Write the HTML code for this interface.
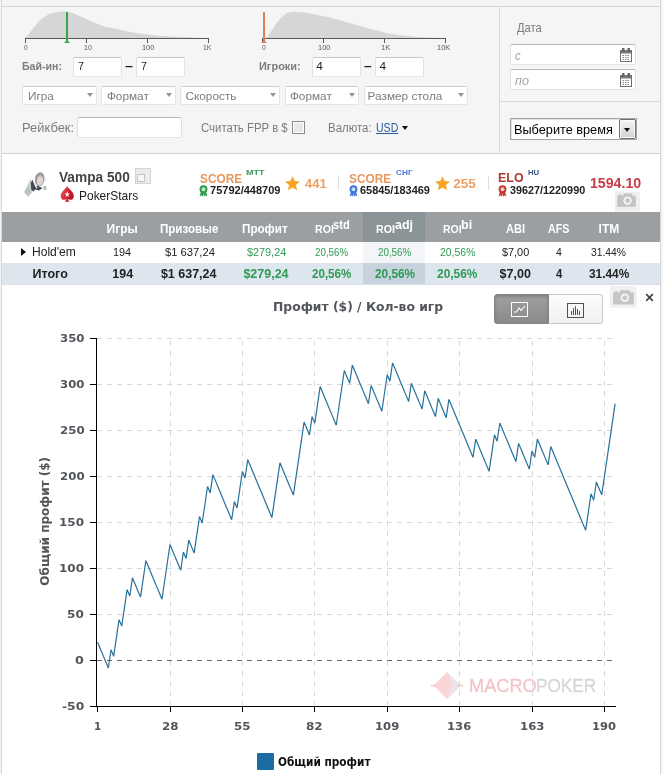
<!DOCTYPE html>
<html lang="ru"><head><meta charset="utf-8"><title>MacroPoker</title>
<style>
html,body{margin:0;padding:0}
body{width:663px;height:774px;overflow:hidden;background:#f4f4f4;font-family:"Liberation Sans",sans-serif;position:relative}
.abs{position:absolute}
.t{position:absolute;line-height:0;white-space:pre;height:0;transform-origin:0 50%}
.box{position:absolute;box-sizing:border-box}
.inp{position:absolute;box-sizing:border-box;background:#fff;border:1px solid #e0e0e0}
.sel{position:absolute;box-sizing:border-box;background:#fff;border:1px solid #e4e4e4;border-top-color:#cecece;border-radius:2px;height:19.5px;top:85.8px}
.sel:after{content:"";position:absolute;right:3px;top:6.5px;border-left:3.8px solid transparent;border-right:3.8px solid transparent;border-top:4px solid #949494}
</style></head>
<body>
<div class="box" style="left:1px;top:0;width:660px;height:774px;border-left:1px solid #d6d6d6;border-right:1px solid #d6d6d6"></div>
<div class="box" style="left:2px;top:6px;width:658px;height:148px;background:#f5f5f5;border-top:1px solid #d6d6d6;border-bottom:1px solid #d2d2d2"></div>
<div class="box" style="left:499px;top:7px;width:1px;height:146px;background:#d9d9d9"></div>
<div class="box" style="left:500px;top:101px;width:160px;height:1px;background:#d9d9d9"></div>
<div class="box" style="left:2px;top:154px;width:658px;height:620px;background:#fff"></div>
<svg class="abs" style="left:0;top:0" width="500" height="56" viewBox="0 0 500 56">
<path d="M25.3 38.0C25.9 37.3 27.4 35.7 29.0 33.7C30.6 31.7 33.3 28.2 35.1 26.1C36.9 24.0 38.1 22.3 39.6 20.8C41.1 19.3 42.3 18.3 44.1 17.1C45.9 15.9 48.2 14.5 50.2 13.7C52.2 12.9 54.2 12.5 56.2 12.2C58.2 11.8 60.2 11.6 62.2 11.6C64.2 11.6 66.3 11.6 68.3 11.9C70.3 12.2 72.3 13.0 74.3 13.7C76.3 14.4 78.3 15.4 80.3 16.3C82.3 17.2 84.4 18.4 86.4 19.3C88.4 20.2 90.4 21.1 92.4 21.9C94.4 22.7 96.4 23.6 98.4 24.3C100.4 25.1 102.5 25.8 104.5 26.4C106.5 27.0 108.0 27.3 110.5 27.8C113.0 28.3 116.4 29.0 119.3 29.6C122.2 30.2 125.1 30.8 128.1 31.4C131.1 31.9 133.8 32.4 137.1 32.9C140.4 33.4 143.4 33.9 147.7 34.4C152.0 34.9 157.8 35.5 162.8 35.9C167.8 36.3 172.9 36.5 177.9 36.8C182.9 37.0 187.9 37.2 193.0 37.4C198.1 37.6 205.8 37.8 208.3 37.9V38.5H25.3Z" fill="#d5d6d8"/>
<path d="M266.0 38.0C266.7 37.1 268.7 34.9 270.1 32.9C271.5 30.9 273.1 28.2 274.6 26.1C276.1 24.0 277.6 21.9 279.1 20.1C280.6 18.4 282.3 16.8 283.7 15.6C285.1 14.4 286.1 13.4 287.4 12.8C288.6 12.2 289.6 12.1 291.2 11.9C292.8 11.8 294.7 11.8 297.2 11.9C299.7 12.1 303.3 12.4 306.3 12.8C309.3 13.2 312.3 13.8 315.3 14.4C318.3 15.0 321.4 15.6 324.4 16.3C327.4 17.0 330.4 17.8 333.4 18.6C336.4 19.4 339.6 20.3 342.5 21.1C345.4 21.9 348.2 22.6 351.0 23.4C353.8 24.2 356.1 24.9 359.0 25.7C361.9 26.5 365.1 27.6 368.1 28.4C371.1 29.2 374.1 29.9 377.1 30.6C380.1 31.4 383.2 32.3 386.2 32.9C389.2 33.5 391.2 33.8 395.2 34.4C399.2 35.0 405.3 35.7 410.3 36.2C415.3 36.7 420.4 37.0 425.4 37.3C430.4 37.6 437.2 37.8 440.5 37.9C443.8 38.0 444.5 38.0 445.3 38.0V38.5H266Z" fill="#d5d6d8"/>
<path d="M25.5 43V38.5H208.500V43M86.500 38.5V43M147.500 38.5V43" stroke="#5a5a5a" fill="none" shape-rendering="crispEdges"/>
<path d="M262.500 43V38.5H445.500V43M323.500 38.5V43M384.500 38.5V43" stroke="#5a5a5a" fill="none" shape-rendering="crispEdges"/>
<path d="M67 12V41" stroke="#3aa845" stroke-width="2"/><path d="M64 43L67 39.800L70 43Z" fill="#3aa845"/>
<path d="M264 12V41" stroke="#dc8250" stroke-width="2"/><path d="M261.200 43L264 39.800L266.800 43Z" fill="#dc8250"/>
</svg>
<div class="inp" style="left:73px;top:57px;width:48.5px;height:19.5px;border-color:#c8c8c8 #e2e2e2 #e6e6e6 #e2e2e2;border-radius:2px"></div>
<div class="inp" style="left:136px;top:57px;width:48.5px;height:19.5px;border-color:#c8c8c8 #e2e2e2 #e6e6e6 #e2e2e2;border-radius:2px"></div>
<div class="inp" style="left:312px;top:57px;width:48.5px;height:19.5px;border-color:#c8c8c8 #e2e2e2 #e6e6e6 #e2e2e2;border-radius:2px"></div>
<div class="inp" style="left:375px;top:57px;width:48.5px;height:19.5px;border-color:#c8c8c8 #e2e2e2 #e6e6e6 #e2e2e2;border-radius:2px"></div>
<div class="inp" style="left:77px;top:117px;width:104.5px;height:21px;border-color:#b8b8b8 #e0e0e0 #e6e6e6 #e0e0e0;border-radius:3px"></div>
<div class="sel" style="left:22px;width:74.5px"></div>
<div class="sel" style="left:101px;width:75px"></div>
<div class="sel" style="left:180px;width:99.6px"></div>
<div class="sel" style="left:285px;width:73.5px"></div>
<div class="sel" style="left:363.5px;width:104.5px"></div>
<div class="box" style="left:291.6px;top:121px;width:13px;height:13px;border:1px solid #8a8a8a;background:#e8e8e8;box-shadow:inset 0 0 0 1px #fff"></div>
<div class="abs" style="left:401.8px;top:126px;border-left:3.6px solid transparent;border-right:3.6px solid transparent;border-top:4.4px solid #111"></div>
<div class="inp" style="left:510px;top:44px;width:126px;height:21.3px;border-color:#b6b6b6 #dedede #e4e4e4 #dedede;border-radius:2px"><svg class="abs" style="right:3px;top:3px" width="12" height="14" viewBox="0 0 12 14"><rect x="0.5" y="2.5" width="11" height="11" fill="#fff" stroke="#6e6e6e"/><rect x="1" y="2" width="10" height="3.5" fill="#7a7a7a"/><rect x="2" y="0" width="2.500" height="4" fill="#666"/><rect x="7.500" y="0" width="2.500" height="4" fill="#666"/><path d="M2.500 7.500H10M2.500 9.500H10M2.500 11.500H10" stroke="#8a8a8a" stroke-dasharray="1.500 1"/></svg></div>
<div class="inp" style="left:510px;top:69px;width:126px;height:21.4px;border-color:#b6b6b6 #dedede #e4e4e4 #dedede;border-radius:2px"><svg class="abs" style="right:3px;top:3px" width="12" height="14" viewBox="0 0 12 14"><rect x="0.5" y="2.5" width="11" height="11" fill="#fff" stroke="#6e6e6e"/><rect x="1" y="2" width="10" height="3.5" fill="#7a7a7a"/><rect x="2" y="0" width="2.500" height="4" fill="#666"/><rect x="7.500" y="0" width="2.500" height="4" fill="#666"/><path d="M2.500 7.500H10M2.500 9.500H10M2.500 11.500H10" stroke="#8a8a8a" stroke-dasharray="1.500 1"/></svg></div>
<div class="box" style="left:510px;top:118px;width:127px;height:22px;background:#fff;border:1px solid #a4a4a4;box-shadow:inset 1px 1px 0 #e4e4e4"><div class="box" style="right:0;top:0;width:17px;height:20px;border:1px solid #707070;background:linear-gradient(#f6f6f6,#d2d2d2);border-radius:2px;box-shadow:inset 0 0 0 1px #fbfbfb"><div class="abs" style="left:4px;top:8px;border-left:3.5px solid transparent;border-right:3.5px solid transparent;border-top:4px solid #111"></div></div></div>
<svg class="abs" style="left:18px;top:164px" width="36" height="40" viewBox="0 0 36 40">
<path d="M12.600 15.200L8.800 22.500L6.200 28.500L10.300 33L15.800 26L14 19Z" fill="#c3cdc9"/>
<path d="M7 26.500L10.500 30.500M8.500 24.500L12 28.500" stroke="#93a09b" stroke-width="0.800" fill="none"/>
<path d="M14.300 15.500L17.600 23.500L19 21.500L24.500 24L21 26.500L17 25.500L15.500 27.500L13.200 25.500L12.800 19Z" fill="#434a54"/>
<path d="M17.600 20.500L19.600 24.200L18.200 24.600Z" fill="#f4f4f6"/>
<ellipse cx="21.700" cy="15.200" rx="4.800" ry="7.100" fill="#979c9f" transform="rotate(8 21.700 15.200)"/>
<ellipse cx="22" cy="16.500" rx="3.100" ry="5" fill="#e6d5d0" transform="rotate(8 22 16.500)"/>
<path d="M19.300 13.500C20.500 12 22.500 12 24 13.200" stroke="#b9b4b2" stroke-width="1" fill="none"/>
<path d="M25 22.500L27.800 21.500L28.800 25.500L26 26.500Z" fill="#b9bfc0"/>
</svg>
<div class="box" style="left:135px;top:168px;width:16px;height:16px;background:#ececec;border:1px solid #d4d4d4"><div class="box" style="left:1px;top:5px;width:8px;height:8px;border:1px solid #c4c4c4;background:#f6f6f6"></div></div>
<svg class="abs" style="left:59.8px;top:185.7px" width="14.4" height="16.2" viewBox="0 0 16 15" preserveAspectRatio="none"><defs><linearGradient id="sp" x1="0" y1="0.2" x2="1" y2="0.7"><stop offset="0" stop-color="#ee6a66"/><stop offset="0.45" stop-color="#d62432"/><stop offset="1" stop-color="#b4101e"/></linearGradient></defs><path d="M8 0.300C10 3 15.300 5.500 15.300 9.200C15.300 11.600 13.400 12.800 11.600 12.800C10.400 12.800 9.400 12.300 8.800 11.500C9 13 9.800 14 10.800 14.600H5.200C6.200 14 7 13 7.200 11.500C6.600 12.300 5.600 12.800 4.400 12.800C2.600 12.800 0.700 11.600 0.700 9.200C0.700 5.500 6 3 8 0.300Z" fill="url(#sp)"/><path d="M8 4.700L8.750 6.900L11 6.900L9.200 8.250L9.900 10.400L8 9.100L6.100 10.400L6.800 8.250L5 6.900L7.250 6.900Z" fill="#fff"/></svg>
<svg class="abs" style="left:199.2px;top:185px" width="9" height="12" viewBox="0 0 9 12"><path d="M2 6.500L0.600 11.500L2.800 10.300L4 11.800L4.500 8L5 11.800L6.200 10.300L8.400 11.500L7 6.500Z" fill="#2f9a4c"/><circle cx="4.500" cy="4.200" r="3.900" fill="#2f9a4c"/><circle cx="4.500" cy="4.200" r="2" fill="#fff" fill-opacity="0.75"/></svg>
<svg class="abs" style="left:348.7px;top:185px" width="9" height="12" viewBox="0 0 9 12"><path d="M2 6.500L0.600 11.500L2.800 10.300L4 11.800L4.500 8L5 11.800L6.200 10.300L8.400 11.500L7 6.500Z" fill="#3f74d8"/><circle cx="4.500" cy="4.200" r="3.900" fill="#3f74d8"/><circle cx="4.500" cy="4.200" r="2" fill="#fff" fill-opacity="0.75"/></svg>
<svg class="abs" style="left:498px;top:185px" width="9" height="12" viewBox="0 0 9 12"><path d="M2 6.500L0.600 11.500L2.800 10.300L4 11.800L4.500 8L5 11.800L6.200 10.300L8.400 11.500L7 6.500Z" fill="#c8372d"/><circle cx="4.500" cy="4.200" r="3.900" fill="#c8372d"/><circle cx="4.500" cy="4.200" r="2" fill="#fff" fill-opacity="0.75"/></svg>
<svg class="abs" style="left:285.2px;top:176px" width="15" height="15" viewBox="0 0 15 15"><path d="M7.500 0.300L9.700 5.100L14.800 5.600L11 9.100L12.100 14.200L7.500 11.600L2.900 14.200L4 9.100L0.200 5.600L5.300 5.100Z" fill="#f6a623"/></svg>
<svg class="abs" style="left:434.5px;top:176px" width="15" height="15" viewBox="0 0 15 15"><path d="M7.500 0.300L9.700 5.100L14.800 5.600L11 9.100L12.100 14.200L7.500 11.600L2.900 14.200L4 9.100L0.200 5.600L5.300 5.100Z" fill="#f6a623"/></svg>
<div class="box" style="left:338px;top:176px;width:1px;height:14px;background:#ddd"></div>
<div class="box" style="left:488px;top:176px;width:1px;height:14px;background:#ddd"></div>
<svg class="abs" style="left:615px;top:192px" width="25" height="19.5" viewBox="0 0 25 19.5"><rect width="25" height="19.5" fill="#eeeeee"/><path d="M2.2 4.0H7.8L9.0 1.5999999999999999H16.8L18.0 4.0H20.8V14.8H2.2Z" fill="#c4c4c4"/><rect x="3.7" y="2.6" width="3" height="1.6" fill="#c4c4c4"/><circle cx="12.6" cy="8.6" r="4.2" fill="#f6f6f6"/><circle cx="12.6" cy="8.6" r="2.4" fill="#c4c4c4"/></svg>
<div class="box" style="left:2px;top:212px;width:658px;height:30px;background:#9b9fa2"></div>
<div class="box" style="left:363px;top:212px;width:62px;height:30px;background:#8b9497"></div>
<div class="box" style="left:363px;top:242px;width:62px;height:21px;background:#f3f5f8"></div>
<div class="box" style="left:2px;top:263px;width:658px;height:21px;background:#dde6ef"></div>
<div class="box" style="left:363px;top:263px;width:62px;height:21px;background:#c6d2de"></div>
<div class="box" style="left:2px;top:284px;width:658px;height:1px;background:#d8dfe6"></div>
<div class="abs" style="left:21px;top:247.5px;border-top:4px solid transparent;border-bottom:4px solid transparent;border-left:5px solid #111"></div>
<div class="box" style="left:494px;top:294px;width:55px;height:30px;background:linear-gradient(#a0a0a0,#8a8a8a);border:1px solid #858585;border-radius:3px 0 0 3px;box-shadow:inset 0 2px 3px rgba(0,0,0,.18)"></div>
<div class="box" style="left:549px;top:294px;width:54px;height:30px;background:linear-gradient(#fdfdfd,#f0f0f0);border:1px solid #c8c8c8;border-left:none;border-radius:0 3px 3px 0"></div>
<svg class="abs" style="left:511px;top:302px" width="17" height="15" viewBox="0 0 17 15"><rect x="0.5" y="0.5" width="16" height="14" fill="none" stroke="#fff"/><path d="M3 10H5.500L8 6L10 8.500L14 4" fill="none" stroke="#fff" stroke-width="1.100"/></svg>
<svg class="abs" style="left:567px;top:303px" width="17" height="15" viewBox="0 0 17 15"><rect x="0.5" y="0.5" width="16" height="14" fill="none" stroke="#505050"/><path d="M4.500 12V8M6.500 12V5.200M8.500 12V3.200M10.500 12V6M12.500 12V8" fill="none" stroke="#505050"/></svg>
<svg class="abs" style="left:610px;top:285.6px" width="26.7" height="22.4" viewBox="0 0 26.7 22.4"><rect width="26.7" height="22.4" fill="#f1f1f1"/><path d="M3.1 6.6H9.3L10.5 4.2H19.6L20.8 6.6H23.9V18.4H3.1Z" fill="#c6c6c6"/><rect x="4.6" y="5.2" width="3" height="1.6" fill="#c6c6c6"/><circle cx="14.9" cy="11.8" r="4.2" fill="#f6f6f6"/><circle cx="14.9" cy="11.8" r="2.4" fill="#c6c6c6"/></svg>
<svg class="abs" style="left:644.5px;top:292.5px" width="9" height="9" viewBox="0 0 9 9"><path d="M1.200 1.200L7.800 7.800M7.800 1.200L1.200 7.800" stroke="#444" stroke-width="1.700"/></svg>
<svg class="abs" style="left:431px;top:671px" width="32" height="30" viewBox="0 0 32 30"><path d="M16 1L29.500 14.500L16 28L2.500 14.500Z" fill="#f9d5d5"/><path d="M16 1L29.500 14.500L16 28L21 14.500Z" fill="#e9e4e8"/><path d="M0 14.500H6M26 14.500H32" stroke="#f4c8c8" stroke-width="1.500"/></svg>
<svg class="abs" style="left:0;top:0" width="663" height="774" viewBox="0 0 663 774">
<path d="M97 338.5H616 M97 384.5H616 M97 430.5H616 M97 476.5H616 M97 522.5H616 M97 568.5H616 M97 614.5H616" stroke="#d7d7d7" stroke-width="1" stroke-dasharray="5 5" fill="none" shape-rendering="crispEdges"/>
<path d="M97 660.5H616" stroke="#666" stroke-width="1" stroke-dasharray="5 5" fill="none" shape-rendering="crispEdges"/>
<path d="M170.5 706V338 M242.5 706V338 M314.5 706V338 M387.5 706V338 M459.5 706V338 M532.5 706V338 M604.5 706V338" stroke="#d7d7d7" stroke-width="1" stroke-dasharray="5 5" fill="none" shape-rendering="crispEdges"/>
<path d="M96.5 338V707 M96 706.5H616 M90 338.5H96 M90 384.5H96 M90 430.5H96 M90 476.5H96 M90 522.5H96 M90 568.5H96 M90 614.5H96 M90 660.5H96 M90 706.5H96 M97.5 707V712 M170.5 707V712 M242.5 707V712 M314.5 707V712 M387.5 707V712 M459.5 707V712 M532.5 707V712 M604.5 707V712" stroke="#000" stroke-width="1" fill="none" shape-rendering="crispEdges"/>
<polyline points="97.60,642.25 100.28,648.69 102.96,655.13 105.64,661.57 108.33,668.01 111.01,649.75 113.69,656.19 116.37,637.94 119.05,619.69 121.73,626.13 124.41,607.88 127.10,589.62 129.78,596.06 132.46,577.81 135.14,584.25 137.82,590.69 140.50,597.13 143.19,578.88 145.87,560.62 148.55,567.06 151.23,573.50 153.91,579.94 156.59,586.38 159.27,592.82 161.96,599.26 164.64,581.01 167.32,562.76 170.00,544.51 172.68,550.95 175.36,557.39 178.05,563.83 180.73,570.27 183.41,552.01 186.09,558.45 188.77,540.20 191.45,546.64 194.13,553.08 196.82,534.83 199.50,516.58 202.18,523.02 204.86,504.76 207.54,486.51 210.22,492.95 212.90,474.70 215.59,481.14 218.27,487.58 220.95,494.02 223.63,500.46 226.31,506.90 228.99,513.34 231.68,519.78 234.36,501.52 237.04,507.96 239.72,489.71 242.40,471.46 245.08,477.90 247.76,459.65 250.45,466.09 253.13,472.53 255.81,478.97 258.49,485.41 261.17,491.85 263.85,498.29 266.53,504.73 269.22,511.17 271.90,517.61 274.58,499.35 277.26,481.10 279.94,462.85 282.62,469.29 285.31,475.73 287.99,482.17 290.67,488.61 293.35,495.05 296.03,476.79 298.71,458.54 301.39,440.29 304.08,422.04 306.76,428.48 309.44,434.92 312.12,416.66 314.80,423.10 317.48,404.85 320.16,386.60 322.85,393.04 325.53,399.48 328.21,405.92 330.89,412.36 333.57,418.80 336.25,425.24 338.94,406.98 341.62,388.73 344.30,370.48 346.98,376.92 349.66,383.36 352.34,365.11 355.02,371.55 357.71,377.99 360.39,384.43 363.07,390.87 365.75,397.31 368.43,403.75 371.11,385.49 373.79,391.93 376.48,398.37 379.16,404.81 381.84,411.25 384.52,393.00 387.20,374.75 389.88,381.19 392.57,362.94 395.25,369.38 397.93,375.82 400.61,382.26 403.29,388.70 405.97,395.14 408.65,401.58 411.34,383.32 414.02,389.76 416.70,396.20 419.38,402.64 422.06,409.08 424.74,390.83 427.42,397.27 430.11,403.71 432.79,410.15 435.47,416.59 438.15,398.34 440.83,404.78 443.51,411.22 446.20,417.66 448.88,399.40 451.56,405.84 454.24,412.28 456.92,418.72 459.60,425.16 462.28,431.60 464.97,438.04 467.65,444.48 470.33,450.92 473.01,457.36 475.69,439.11 478.37,445.55 481.05,451.99 483.74,458.43 486.42,464.87 489.10,471.31 491.78,453.06 494.46,434.81 497.14,441.25 499.83,422.99 502.51,429.43 505.19,435.87 507.87,442.31 510.55,448.75 513.23,455.19 515.91,461.63 518.60,443.38 521.28,449.82 523.96,456.26 526.64,462.70 529.32,469.14 532.00,450.89 534.68,457.33 537.37,439.07 540.05,445.51 542.73,451.95 545.41,458.39 548.09,464.83 550.77,446.58 553.46,453.02 556.14,459.46 558.82,465.90 561.50,472.34 564.18,478.78 566.86,485.22 569.54,491.66 572.23,498.10 574.91,504.54 577.59,510.98 580.27,517.42 582.95,523.86 585.63,530.30 588.31,512.05 591.00,493.80 593.68,500.24 596.36,481.98 599.04,488.42 601.72,494.86 604.40,476.61 607.09,458.36 609.77,440.10 612.45,421.85 615.13,403.60" fill="none" stroke="#27719a" stroke-width="1.2" stroke-linejoin="bevel"/>
</svg>
<div class="box" style="left:257px;top:753px;width:17px;height:17px;background:#1b6ca3;border-radius:1px"></div>
<span class="t" style="left:23.89px;top:47.99px;font-size:7.8px;color:#5a5a5a;transform:scaleX(0.8247);">0</span>
<span class="t" style="left:83.75px;top:47.99px;font-size:7.8px;color:#5a5a5a;transform:scaleX(0.9004);">10</span>
<span class="t" style="left:141.93px;top:47.99px;font-size:7.8px;color:#5a5a5a;transform:scaleX(0.9469);">100</span>
<span class="t" style="left:203.16px;top:47.99px;font-size:7.8px;color:#5a5a5a;transform:scaleX(0.8784);">1K</span>
<span class="t" style="left:261.59px;top:47.99px;font-size:7.8px;color:#5a5a5a;transform:scaleX(0.8504);">0</span>
<span class="t" style="left:318.02px;top:47.99px;font-size:7.8px;color:#5a5a5a;transform:scaleX(0.9551);">100</span>
<span class="t" style="left:380.82px;top:47.99px;font-size:7.8px;color:#5a5a5a;transform:scaleX(0.9684);">1K</span>
<span class="t" style="left:437.22px;top:47.99px;font-size:7.8px;color:#5a5a5a;transform:scaleX(0.9513);">10K</span>
<span class="t" style="left:22.13px;top:65.98px;font-size:11.8px;color:#7c7c7c;font-weight:bold;transform:scaleX(0.8989);">Бай-ин:</span>
<span class="t" style="left:77.75px;top:65.98px;font-size:11.8px;color:#222;transform:scaleX(0.9092);">7</span>
<span class="t" style="left:125.38px;top:65.94px;font-size:13px;color:#222;font-weight:bold;transform:scaleX(1.1070);">–</span>
<span class="t" style="left:140.75px;top:65.98px;font-size:11.8px;color:#222;transform:scaleX(0.9092);">7</span>
<span class="t" style="left:258.70px;top:65.98px;font-size:11.8px;color:#7c7c7c;font-weight:bold;transform:scaleX(0.9285);">Игроки:</span>
<span class="t" style="left:316.35px;top:65.98px;font-size:11.8px;color:#222;">4</span>
<span class="t" style="left:364.41px;top:65.94px;font-size:13px;color:#222;font-weight:bold;transform:scaleX(1.0455);">–</span>
<span class="t" style="left:379.55px;top:65.98px;font-size:11.8px;color:#222;">4</span>
<span class="t" style="left:27.93px;top:95.98px;font-size:11.8px;color:#7c7c7c;">Игра</span>
<span class="t" style="left:106.88px;top:95.98px;font-size:11.8px;color:#7c7c7c;">Формат</span>
<span class="t" style="left:185.50px;top:95.98px;font-size:11.8px;color:#7c7c7c;">Скорость</span>
<span class="t" style="left:289.88px;top:95.98px;font-size:11.8px;color:#7c7c7c;">Формат</span>
<span class="t" style="left:367.62px;top:95.98px;font-size:11.8px;color:#7c7c7c;">Размер стола</span>
<span class="t" style="left:21.65px;top:128.06px;font-size:12.3px;color:#7c7c7c;transform:scaleX(1.0514);">Рейкбек:</span>
<span class="t" style="left:201.34px;top:128.06px;font-size:12.3px;color:#7c7c7c;transform:scaleX(0.9280);">Считать FPP в $</span>
<span class="t" style="left:328.37px;top:128.06px;font-size:12.3px;color:#7c7c7c;transform:scaleX(0.9298);">Валюта:</span>
<span class="t" style="left:376.25px;top:128.06px;font-size:12.3px;color:#265c9c;transform:scaleX(0.8571);text-decoration:underline;">USD</span>
<span class="t" style="left:517.20px;top:28.01px;font-size:12.8px;color:#7c7c7c;transform:scaleX(0.8709);">Дата</span>
<span class="t" style="left:515.29px;top:56.05px;font-size:13.4px;color:#a4a4a4;font-style:italic;transform:scaleX(0.8316);">с</span>
<span class="t" style="left:515.38px;top:81.05px;font-size:13.4px;color:#a4a4a4;font-style:italic;transform:scaleX(0.9390);">по</span>
<span class="t" style="left:514.46px;top:130.02px;font-size:13.5px;color:#000;transform:scaleX(0.9417);">Выберите время</span>
<span class="t" style="left:59.10px;top:176.98px;font-size:15.4px;color:#444;font-weight:bold;transform:scaleX(0.8891);">Vampa 500</span>
<span class="t" style="left:78.79px;top:196.00px;font-size:13.2px;color:#1c1c1c;transform:scaleX(0.9069);">PokerStars</span>
<span class="t" style="left:199.87px;top:178.95px;font-size:13.7px;color:#e9975c;font-weight:bold;transform:scaleX(0.8671);">SCORE</span>
<span class="t" style="left:246.13px;top:173.04px;font-size:8px;color:#3a9a5a;font-weight:bold;transform:scaleX(1.1339);">MTT</span>
<span class="t" style="left:210.24px;top:189.96px;font-size:11.5px;color:#222;font-weight:bold;transform:scaleX(0.9580);">75792/448709</span>
<span class="t" style="left:304.68px;top:184.02px;font-size:13.5px;color:#f0a060;font-weight:bold;transform:scaleX(0.9579);">441</span>
<span class="t" style="left:349.18px;top:178.95px;font-size:13.7px;color:#e9975c;font-weight:bold;transform:scaleX(0.8650);">SCORE</span>
<span class="t" style="left:395.54px;top:173.04px;font-size:8px;color:#4a78d8;font-weight:bold;transform:scaleX(1.0283);">СНГ</span>
<span class="t" style="left:360.24px;top:189.96px;font-size:11.5px;color:#222;font-weight:bold;transform:scaleX(0.9498);">65845/183469</span>
<span class="t" style="left:453.32px;top:184.02px;font-size:13.5px;color:#f0a060;font-weight:bold;">255</span>
<span class="t" style="left:498.05px;top:178.02px;font-size:12.4px;color:#ad3a30;font-weight:bold;">ELO</span>
<span class="t" style="left:527.92px;top:173.04px;font-size:8px;color:#34547e;font-weight:bold;transform:scaleX(0.9687);">HU</span>
<span class="t" style="left:509.66px;top:189.96px;font-size:11.5px;color:#222;font-weight:bold;transform:scaleX(0.9401);">39627/1220990</span>
<span class="t" style="left:589.92px;top:183.02px;font-size:14.2px;color:#c83c48;font-weight:bold;">1594.10</span>
<span class="t" style="left:106.55px;top:229.04px;font-size:12px;color:#fff;font-weight:bold;">Игры</span>
<span class="t" style="left:159.58px;top:229.04px;font-size:12px;color:#fff;font-weight:bold;transform:scaleX(0.9625);">Призовые</span>
<span class="t" style="left:242.37px;top:229.04px;font-size:12px;color:#fff;font-weight:bold;transform:scaleX(0.9716);">Профит</span>
<span class="t" style="left:314.71px;top:229.05px;font-size:11.6px;color:#fff;font-weight:bold;transform:scaleX(0.9142);">ROI</span>
<span class="t" style="left:333.15px;top:225.04px;font-size:12px;color:#fff;font-weight:bold;transform:scaleX(0.9304);">std</span>
<span class="t" style="left:376.31px;top:229.05px;font-size:11.6px;color:#fff;font-weight:bold;transform:scaleX(0.9142);">ROI</span>
<span class="t" style="left:394.74px;top:225.04px;font-size:12px;color:#fff;font-weight:bold;transform:scaleX(1.0396);">adj</span>
<span class="t" style="left:442.82px;top:229.05px;font-size:11.6px;color:#fff;font-weight:bold;transform:scaleX(0.9090);">ROI</span>
<span class="t" style="left:460.71px;top:225.04px;font-size:12px;color:#fff;font-weight:bold;transform:scaleX(1.0512);">bi</span>
<span class="t" style="left:506.07px;top:229.04px;font-size:12px;color:#fff;font-weight:bold;transform:scaleX(0.9162);">ABI</span>
<span class="t" style="left:547.68px;top:229.04px;font-size:12px;color:#fff;font-weight:bold;transform:scaleX(0.8984);">AFS</span>
<span class="t" style="left:598.55px;top:229.04px;font-size:12px;color:#fff;font-weight:bold;">ITM</span>
<span class="t" style="left:32.36px;top:252.01px;font-size:12.8px;color:#222;transform:scaleX(0.9413);">Hold'em</span>
<span class="t" style="left:113.18px;top:252.05px;font-size:11.6px;color:#222;transform:scaleX(0.9384);">194</span>
<span class="t" style="left:164.58px;top:252.05px;font-size:11.6px;color:#222;transform:scaleX(0.9683);">$1 637,24</span>
<span class="t" style="left:246.98px;top:252.05px;font-size:11.6px;color:#2e9a52;transform:scaleX(0.9351);">$279,24</span>
<span class="t" style="left:315.48px;top:252.05px;font-size:11.6px;color:#2e9a52;transform:scaleX(0.8443);">20,56%</span>
<span class="t" style="left:377.78px;top:252.05px;font-size:11.6px;color:#2e9a52;transform:scaleX(0.8443);">20,56%</span>
<span class="t" style="left:439.55px;top:252.05px;font-size:11.6px;color:#2e9a52;transform:scaleX(0.9013);">20,56%</span>
<span class="t" style="left:501.78px;top:252.05px;font-size:11.6px;color:#222;transform:scaleX(0.9366);">$7,00</span>
<span class="t" style="left:555.97px;top:252.05px;font-size:11.6px;color:#222;transform:scaleX(0.9018);">4</span>
<span class="t" style="left:590.97px;top:252.05px;font-size:11.6px;color:#222;transform:scaleX(0.8880);">31.44%</span>
<span class="t" style="left:32.55px;top:273.99px;font-size:12.5px;color:#222;font-weight:bold;">Итого</span>
<span class="t" style="left:112.25px;top:273.99px;font-size:12.5px;color:#222;font-weight:bold;">194</span>
<span class="t" style="left:160.88px;top:273.99px;font-size:12.5px;color:#222;font-weight:bold;">$1 637,24</span>
<span class="t" style="left:243.38px;top:273.99px;font-size:12.5px;color:#2e9a52;font-weight:bold;">$279,24</span>
<span class="t" style="left:311.95px;top:273.99px;font-size:12.5px;color:#2e9a52;font-weight:bold;transform:scaleX(0.9266);">20,56%</span>
<span class="t" style="left:374.55px;top:273.99px;font-size:12.5px;color:#2e9a52;font-weight:bold;transform:scaleX(0.9458);">20,56%</span>
<span class="t" style="left:437.14px;top:273.99px;font-size:12.5px;color:#2e9a52;font-weight:bold;transform:scaleX(0.9530);">20,56%</span>
<span class="t" style="left:499.57px;top:273.99px;font-size:12.5px;color:#222;font-weight:bold;">$7,00</span>
<span class="t" style="left:555.69px;top:273.99px;font-size:12.5px;color:#222;font-weight:bold;transform:scaleX(0.9016);">4</span>
<span class="t" style="left:588.56px;top:273.99px;font-size:12.5px;color:#222;font-weight:bold;transform:scaleX(0.9501);">31.44%</span>
<span class="t" style="left:272.57px;top:307.04px;font-size:12px;color:#52555a;font-weight:bold;font-family:'DejaVu Sans','Liberation Sans',sans-serif;transform:scaleX(1.0280);">Профит ($) / Кол-во игр</span>
<span class="t" style="left:59.83px;top:339.01px;font-size:11px;color:#52555a;font-weight:bold;font-family:'DejaVu Sans','Liberation Sans',sans-serif;transform:scaleX(1.0649);">350</span>
<span class="t" style="left:59.83px;top:385.01px;font-size:11px;color:#52555a;font-weight:bold;font-family:'DejaVu Sans','Liberation Sans',sans-serif;transform:scaleX(1.0649);">300</span>
<span class="t" style="left:59.70px;top:431.01px;font-size:11px;color:#52555a;font-weight:bold;font-family:'DejaVu Sans','Liberation Sans',sans-serif;transform:scaleX(1.0710);">250</span>
<span class="t" style="left:59.70px;top:477.01px;font-size:11px;color:#52555a;font-weight:bold;font-family:'DejaVu Sans','Liberation Sans',sans-serif;transform:scaleX(1.0710);">200</span>
<span class="t" style="left:59.27px;top:523.01px;font-size:11px;color:#52555a;font-weight:bold;font-family:'DejaVu Sans','Liberation Sans',sans-serif;transform:scaleX(1.0898);">150</span>
<span class="t" style="left:59.27px;top:569.01px;font-size:11px;color:#52555a;font-weight:bold;font-family:'DejaVu Sans','Liberation Sans',sans-serif;transform:scaleX(1.0898);">100</span>
<span class="t" style="left:67.48px;top:615.01px;font-size:11px;color:#52555a;font-weight:bold;font-family:'DejaVu Sans','Liberation Sans',sans-serif;transform:scaleX(1.0970);">50</span>
<span class="t" style="left:75.42px;top:661.01px;font-size:11px;color:#52555a;font-weight:bold;font-family:'DejaVu Sans','Liberation Sans',sans-serif;transform:scaleX(1.1552);">0</span>
<span class="t" style="left:62.04px;top:707.01px;font-size:11px;color:#52555a;font-weight:bold;font-family:'DejaVu Sans','Liberation Sans',sans-serif;transform:scaleX(1.1158);">-50</span>
<span class="t" style="left:93.50px;top:727.01px;font-size:11px;color:#52555a;font-weight:bold;font-family:'DejaVu Sans','Liberation Sans',sans-serif;transform:scaleX(0.9359);">1</span>
<span class="t" style="left:161.99px;top:727.01px;font-size:11px;color:#52555a;font-weight:bold;font-family:'DejaVu Sans','Liberation Sans',sans-serif;transform:scaleX(1.0808);">28</span>
<span class="t" style="left:233.99px;top:727.01px;font-size:11px;color:#52555a;font-weight:bold;font-family:'DejaVu Sans','Liberation Sans',sans-serif;transform:scaleX(1.0808);">55</span>
<span class="t" style="left:306.12px;top:727.01px;font-size:11px;color:#52555a;font-weight:bold;font-family:'DejaVu Sans','Liberation Sans',sans-serif;transform:scaleX(1.0906);">82</span>
<span class="t" style="left:374.91px;top:727.01px;font-size:11px;color:#52555a;font-weight:bold;font-family:'DejaVu Sans','Liberation Sans',sans-serif;transform:scaleX(1.0601);">109</span>
<span class="t" style="left:446.91px;top:727.01px;font-size:11px;color:#52555a;font-weight:bold;font-family:'DejaVu Sans','Liberation Sans',sans-serif;transform:scaleX(1.0538);">136</span>
<span class="t" style="left:519.90px;top:727.01px;font-size:11px;color:#52555a;font-weight:bold;font-family:'DejaVu Sans','Liberation Sans',sans-serif;transform:scaleX(1.0664);">163</span>
<span class="t" style="left:591.92px;top:727.01px;font-size:11px;color:#52555a;font-weight:bold;font-family:'DejaVu Sans','Liberation Sans',sans-serif;transform:scaleX(1.0477);">190</span>
<span class="t" style="left:278.16px;top:762.04px;font-size:12px;color:#111;font-weight:bold;font-family:'DejaVu Sans','Liberation Sans',sans-serif;transform:scaleX(0.8802);">Общий профит</span>
<span class="t" style="left:-0.50px;top:-4.15px;font-size:12px;color:#52555a;font-weight:bold;font-family:'DejaVu Sans','Liberation Sans',sans-serif;transform-origin:0 0;transform:translate(45.4px,589.7px) rotate(-90deg) scaleX(1.0000);left:0;top:-4.15px;">Общий профит ($)</span>
<span class="t" style="left:469.27px;top:685.99px;font-size:19px;color:#f3c4c8;transform:scaleX(0.9563);-webkit-text-stroke:0.3px #f3c4c8;">MACRO</span>
<span class="t" style="left:535.64px;top:685.99px;font-size:19px;color:#d5d5da;transform:scaleX(0.9043);-webkit-text-stroke:0.3px #d5d5da;">POKER</span>
</body></html>
